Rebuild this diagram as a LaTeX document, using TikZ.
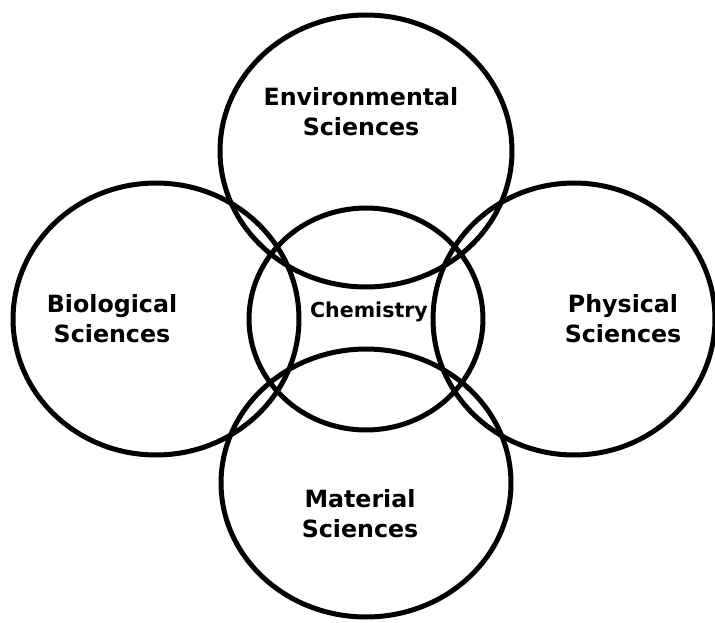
\documentclass[tikz,border=0pt]{standalone}
\usepackage{fontspec}
\setmainfont{DejaVu Sans}
\usetikzlibrary{shapes.geometric}
\usetikzlibrary{positioning}
\tikzset{field/.style={ellipse,draw=black,line width=0.1cm,inner sep=0pt}}
\tikzset{lbl/.style={align=center,font=\bfseries\fontsize{13.5}{17}\selectfont}}

\begin{document}
\begin{tikzpicture}[x=0.02cm,y=-0.02cm]
\useasboundingbox (0,0) rectangle (715,622);
\node[field, minimum width=5.84cm, minimum height=5.44cm] (env) at (366,151) {};
\node[field, minimum width=5.72cm, minimum height=5.44cm] (bio) at (156,319) {};
\node[field, minimum width=5.64cm, minimum height=5.44cm] (phy) at (574,319) {};
\node[field, minimum width=5.80cm, minimum height=5.36cm] (mat) at (366,483) {};
\node[field, minimum width=4.68cm, minimum height=4.44cm] (chem) at (366,319) {};

\node[lbl] (envt) at (361,112) {Environmental\\Sciences};
\node[lbl] (biot) at (112,319) {Biological\\Sciences};
\node[lbl] (phyt) at (623,319) {Physical\\Sciences};
\node[lbl] (matt) at (360,514) {Material\\Sciences};
\node[lbl, font=\bfseries\fontsize{11.7}{14}\selectfont] (chemt) at (369,312) {Chemistry};
\end{tikzpicture}
\end{document}
